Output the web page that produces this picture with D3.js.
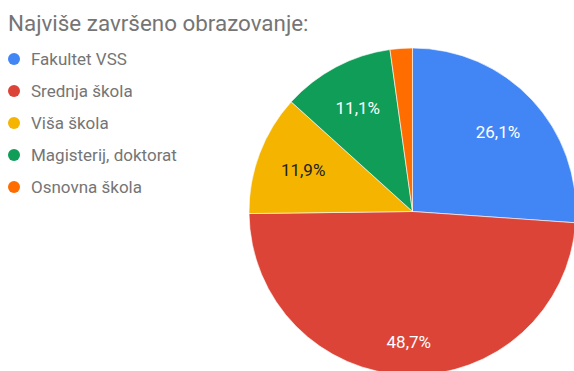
<!DOCTYPE html>
<html>
<head>
<meta charset="utf-8">
<script src="https://cdn.jsdelivr.net/npm/d3@7"></script>
<style>
  html, body { margin: 0; padding: 0; background: #fff; }
  svg { display: block; font-family: Roboto, "Noto Sans", sans-serif; }
</style>
</head>
<body>
<svg id="chart" width="574" height="371"></svg>
<script>
// Highest completed education level, shares in percent
const categories = ["Fakultet VSS", "Srednja škola", "Viša škola", "Magisterij, doktorat", "Osnovna škola"];
const shares = [26.1, 48.7, 11.9, 11.1, 2.2];
const sliceLabels = ["26,1%", "48,7%", "11,9%", "11,1%", ""];
const colors = ["#4285f4", "#db4437", "#f4b400", "#0f9d58", "#ff6d01"];
const labelColors = ["#ffffff", "#ffffff", "#222222", "#ffffff", "#ffffff"];
const title = "Najviše završeno obrazovanje:";

const svg = d3.select("#chart");
const cx = 412.5, cy = 211.5, radius = 163.5;

svg.append("text")
  .attr("x", 8).attr("y", 31)
  .attr("font-size", 22.4)
  .attr("fill", "#757575")
  .text(title);

const data = categories.map((c, i) => ({ name: c, value: shares[i], label: sliceLabels[i], color: colors[i], textColor: labelColors[i] }));

const pie = d3.pie().value(d => d.value).sort(null);
const arcs = pie(data);
const arc = d3.arc().innerRadius(0).outerRadius(radius);

const g = svg.append("g").attr("transform", `translate(${cx},${cy})`);
g.selectAll("path.slice")
  .data(arcs)
  .join("path")
  .attr("class", "slice")
  .attr("d", arc)
  .attr("fill", d => d.data.color)
  .attr("stroke", "#ffffff")
  .attr("stroke-width", 0.6);

g.selectAll("text.val")
  .data(arcs.filter(d => d.data.label))
  .join("text")
  .attr("class", "val")
  .attr("transform", d => {
    const share = (d.endAngle - d.startAngle) / (2 * Math.PI);
    const r = radius * (share > 0.4 ? 0.8 : 0.715);
    const a = (d.startAngle + d.endAngle) / 2;
    return `translate(${Math.sin(a) * r},${-Math.cos(a) * r})`;
  })
  .attr("text-anchor", "middle")
  .attr("dy", "0.35em")
  .attr("font-size", 17)
  .attr("fill", d => d.data.textColor)
  .text(d => d.data.label);

// Legend
const legend = svg.append("g");
const items = legend.selectAll("g")
  .data(data)
  .join("g")
  .attr("transform", (d, i) => `translate(0,${59 + i * 32})`);
items.append("circle")
  .attr("cx", 14).attr("cy", 0).attr("r", 6)
  .attr("fill", d => d.color);
items.append("text")
  .attr("x", 31).attr("y", 0)
  .attr("dy", "0.35em")
  .attr("font-size", 17)
  .attr("fill", "#757575")
  .text(d => d.name);
</script>
</body>
</html>
